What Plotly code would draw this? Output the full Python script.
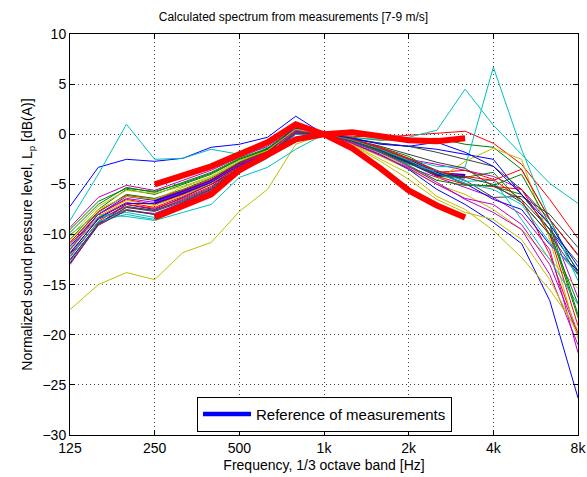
import plotly.graph_objects as go

bands = ["125", "160", "200", "250", "315", "400", "500", "630", "800", "1k",
         "1.25k", "1.6k", "2k", "2.5k", "3.15k", "4k", "5k", "6.3k", "8k"]
tick_labels = ["125", "250", "500", "1k", "2k", "4k", "8k"]
tick_idx = [0, 3, 6, 9, 12, 15, 18]

# thin lines (calculated spectra), MATLAB colour order b g r c m y k
thin_lines = [
    [-7.2, -3.3, -2.5, -2.7, -2.4, -1.3, -1.0, -0.3, 1.8, 0, -0.5, -0.9, -1.2, -1.5, -2.0, -2.5, -6.0, -9.5, -13.6],
    [-10.5, -7.5, -5.5, -6.0, -5.0, -4.0, -2.5, -1.5, 0.5, 0, -0.3, -0.6, -0.5, -0.4, -1.0, -1.3, -3.5, -8.5, -13.9],
    [-11.0, -8.0, -6.5, -7.0, -6.0, -4.8, -3.0, -1.8, 0.3, 0, -0.2, -0.3, -0.1, 0.1, 0.3, -0.9, -3.0, -6.5, -10.4],
    [-8.6, -4.0, 1.0, -2.5, -2.4, -1.5, -2.0, -1.3, -0.5, 0, -0.4, -0.5, -0.3, 0.4, 4.5, 0.9, -2.0, -4.9, -6.9],
    [-9.3, -6.3, -5.1, -5.6, -4.6, -3.6, -2.3, -1.2, 0.6, 0, -0.6, -1.4, -2.5, -3.0, -3.6, -4.2, -5.5, -9.0, -16.3],
    [-17.5, -15.0, -13.8, -14.5, -11.8, -10.8, -7.7, -5.5, -1.0, 0, -1.0, -2.2, -3.5, -5.0, -6.0, -7.5, -9.5, -12.5, -15.4],
    [-12.0, -8.8, -7.5, -8.0, -6.8, -5.5, -3.4, -2.0, 0.2, 0, -0.4, -0.9, -1.2, -1.8, -2.5, -3.2, -5.5, -8.5, -12.1],
    [-12.5, -9.0, -7.0, -7.5, -6.3, -5.0, -3.5, -2.2, 0.0, 0, -0.9, -2.0, -3.5, -5.5, -7.0, -8.8, -10.9, -16.6, -26.3],
    [-9.8, -7.0, -5.3, -5.8, -4.8, -3.8, -2.4, -1.4, 0.7, 0, -0.5, -1.3, -2.2, -3.8, -5.0, -5.2, -6.0, -9.5, -18.3],
    [-11.5, -8.3, -6.8, -7.3, -6.2, -5.0, -3.2, -1.9, 0.4, 0, -0.7, -1.6, -2.8, -3.8, -3.6, -4.5, -6.5, -12.0, -19.9],
    [-10.0, -8.0, -8.2, -8.6, -7.8, -7.0, -4.3, -3.3, -1.5, 0, -0.8, -1.7, -2.5, -3.2, -3.3, 6.7, -1.5, -8.5, -14.6],
    [-12.8, -9.0, -7.3, -7.6, -6.5, -5.3, -3.4, -2.1, 0.1, 0, -0.9, -2.1, -3.3, -4.3, -5.3, -6.3, -8.0, -11.5, -21.8],
    [-10.2, -7.2, -5.6, -5.9, -5.2, -4.2, -2.6, -1.6, 0.6, 0, -0.8, -1.9, -3.4, -4.6, -2.7, -1.4, -2.5, -10.5, -20.4],
    [-11.8, -8.5, -7.2, -7.6, -6.6, -5.4, -3.3, -2.0, 0.2, 0, -0.6, -1.5, -2.4, -3.6, -4.6, -6.3, -6.2, -8.0, -11.3],
    [-11.2, -8.0, -6.2, -6.6, -5.7, -4.6, -3.0, -1.8, 0.8, 0, -0.7, -1.6, -2.8, -3.8, -4.9, -6.5, -7.5, -11.0, -13.6],
    [-10.8, -7.8, -6.0, -6.4, -5.5, -4.4, -2.8, -1.7, 0.5, 0, -0.6, -1.5, -2.7, -4.2, -4.3, -3.8, -6.8, -10.0, -16.9],
    [-12.2, -8.7, -7.0, -7.4, -6.4, -5.2, -3.3, -2.0, 0.2, 0, -0.6, -1.4, -2.5, -4.2, -5.0, -5.2, -5.5, -10.0, -19.1],
    [-11.3, -8.3, -7.8, -8.3, -7.0, -5.7, -3.6, -2.2, 0.3, 0, -0.8, -1.8, -3.0, -3.7, -4.7, -4.6, -8.5, -12.5, -17.0],
    [-13.0, -9.0, -7.6, -7.9, -6.8, -5.6, -3.5, -2.1, 0.2, 0, -0.8, -1.8, -3.2, -4.8, -6.5, -7.8, -9.5, -14.0, -21.0],
    [-11.6, -8.2, -6.6, -7.1, -6.1, -4.9, -3.1, -1.9, 0.4, 0, -1.0, -2.5, -3.9, -6.2, -7.5, -9.6, -12.3, -15.5, -19.5],
    [-12.6, -8.9, -7.3, -7.7, -6.7, -5.5, -3.4, -2.1, 0.3, 0, -0.5, -1.2, -2.0, -2.8, -3.4, -5.2, -6.5, -9.5, -12.8],
    [-11.9, -8.4, -6.9, -6.9, -5.9, -4.8, -3.1, -1.9, 0.6, 0, -0.4, -1.0, -1.2, -0.8, -1.8, -3.2, -6.0, -9.0, -13.2],
    [-9.5, -6.7, -5.4, -5.7, -4.9, -3.9, -2.5, -1.5, 0.5, 0, -0.7, -1.7, -3.1, -4.6, -5.1, -5.1, -4.0, -9.0, -18.0],
    [-10.8, -7.7, -6.1, -6.5, -5.6, -4.5, -2.9, -1.7, 0.5, 0, -0.5, -1.3, -2.4, -3.7, -4.2, -4.6, -3.5, -8.5, -12.0],
    [-12.3, -8.7, -8.0, -8.5, -7.3, -6.0, -3.8, -2.4, 0.0, 0, -0.6, -1.5, -2.6, -3.9, -4.9, -5.5, -7.0, -10.8, -14.0],
    [-11.5, -8.0, -6.4, -6.8, -5.8, -4.7, -3.0, -1.8, 0.4, 0, -0.9, -2.1, -3.4, -5.0, -6.4, -7.0, -9.0, -13.0, -20.0],
    [-10.6, -7.5, -6.2, -6.5, -5.3, -4.3, -2.7, -1.6, 0.5, 0, -1.1, -2.7, -4.5, -6.5, -7.8, -8.5, -10.5, -14.5, -20.0],
    [-12.9, -9.1, -7.6, -8.0, -6.9, -5.7, -3.6, -2.2, 0.1, 0, -0.7, -1.6, -2.9, -4.0, -4.3, -5.0, -6.8, -10.0, -14.0],
]

# measured spectra (thick lines), 250 Hz .. 3.15 kHz
meas_bands = bands[3:15]
reference = [-6.8, -5.8, -4.8, -3.0, -1.6, 0.3, 0, -0.6, -1.6, -2.7, -4.0, -4.2]
meas_upper = [-5.0, -4.1, -3.2, -2.0, -0.8, 1.0, 0, 0.2, -0.2, -0.6, -0.7, -0.4]
meas_lower = [-8.3, -7.2, -6.0, -3.6, -2.0, -0.5, 0, -1.4, -3.4, -5.6, -7.1, -8.3]

matlab_colors = ["#0000ff", "#008000", "#ff0000", "#00bfbf", "#bf00bf", "#bfbf00", "#404040"]

xi = list(range(len(bands)))
xm = list(range(3, 15))

fig = go.Figure()

fig.add_trace(go.Scatter(x=xm, y=reference, mode="lines",
                         line=dict(color="#0000ff", width=4.5),
                         name="Reference of measurements", showlegend=True))

for k, vals in enumerate(thin_lines):
    fig.add_trace(go.Scatter(x=xi, y=vals, mode="lines",
                             line=dict(color=matlab_colors[k % 7], width=1),
                             showlegend=False, hoverinfo="skip"))

for vals in (meas_upper, meas_lower):
    fig.add_trace(go.Scatter(x=xm, y=vals, mode="lines",
                             line=dict(color="#ff0000", width=6),
                             showlegend=False))

font = "Liberation Sans, Arial, sans-serif"
axis_common = dict(
    showline=True, linecolor="black", linewidth=1, mirror="ticks",
    ticks="inside", ticklen=5, tickcolor="black",
    showgrid=True, gridcolor="#444444", griddash="1px,3px", gridwidth=1,
    zeroline=False, automargin=False, ticklabeloverflow="allow",
    tickfont=dict(size=14, color="black", family=font),
)

fig.update_layout(
    width=587, height=477,
    margin=dict(l=70, r=9, t=34, b=42),
    paper_bgcolor="white", plot_bgcolor="white",
    font=dict(family=font, size=14, color="black"),
    title=dict(text="Calculated spectrum from measurements [7-9 m/s]",
               x=0.5, xanchor="center", y=0.964, yanchor="middle",
               font=dict(size=12, family=font)),
    xaxis=dict(range=[0, 18], tickmode="array", tickvals=tick_idx, ticktext=tick_labels,
               title=dict(text="Frequency, 1/3 octave band [Hz]", standoff=5,
                          font=dict(size=14)),
               **axis_common),
    yaxis=dict(range=[-30, 10], tickmode="array", tickvals=list(range(-30, 11, 5)),
               title=dict(text="Normalized sound pressure level, L<sub>p</sub> [dB(A)]",
                          standoff=6, font=dict(size=14)),
               **axis_common),
    legend=dict(x=0.2500, y=0.008, xanchor="left", yanchor="bottom",
                bgcolor="white", bordercolor="black", borderwidth=1,
                itemwidth=48, tracegroupgap=0,
                font=dict(size=15, family=font)),
)

# remove the default 8px page margin so the figure sits exactly in the window
fig.write_html("out.html",
               config={"displayModeBar": False},
               post_script="document.body.style.margin='0';document.body.style.overflow='hidden';")
